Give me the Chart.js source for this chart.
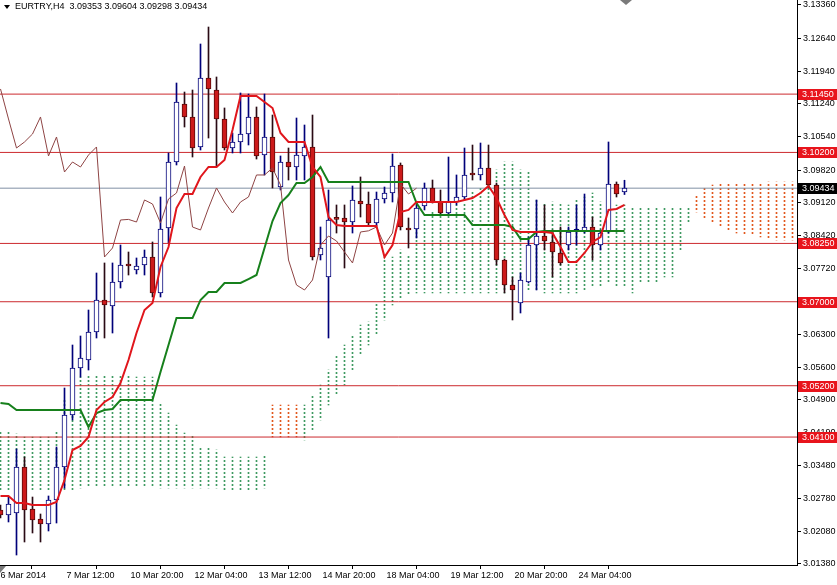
<!DOCTYPE html>
<html>
<head>
<meta charset="utf-8">
<style>
  html, body { margin: 0; padding: 0; background: #fff; }
  canvas { display: block; }
</style>
<script src="https://cdn.jsdelivr.net/npm/chart.js@4.4.1/dist/chart.umd.min.js"></script>
</head>
<body>
<canvas id="chart" width="837" height="585"></canvas>
<script>
// EURTRY H4, one entry per bar (bar 0 = leftmost visible candle)
const symbolTitle = 'EURTRY,H4  3.09353 3.09604 3.09298 3.09434';

const openP = [3.02537, 3.02430, 3.02473, 3.03459, 3.02558, 3.02344, 3.02237, 3.02751, 3.03459, 3.04573,
  3.05580, 3.05752, 3.06352, 3.07037, 3.06909, 3.07423, 3.07788, 3.07680, 3.07788, 3.07959,
  3.07188, 3.08581, 3.09995, 3.11238, 3.10960, 3.10317, 3.11795, 3.11538, 3.10917, 3.10295,
  3.10424, 3.10595, 3.10960, 3.10145, 3.10531, 3.09459, 3.09995, 3.09888, 3.10124, 3.10317,
  3.08002, 3.07530, 3.08780, 3.08795, 3.08709, 3.09159, 3.09095, 3.08688, 3.09202, 3.09331,
  3.09931, 3.08581, 3.08559, 3.09052, 3.09438, 3.09138, 3.08902, 3.09138, 3.09245, 3.09760,
  3.09717, 3.09867, 3.09502, 3.07895, 3.07359, 3.06973, 3.07423, 3.08216, 3.08409, 3.08281,
  3.08045, 3.08216, 3.08510, 3.08516, 3.08602, 3.08216, 3.08495, 3.09524, 3.09353];
const highP = [3.02644, 3.02815, 3.03844, 3.03673, 3.02815, 3.02451, 3.02837, 3.03887, 3.05151, 3.06073,
  3.06266, 3.06823, 3.07616, 3.07831, 3.07831, 3.08216, 3.08066, 3.07938, 3.08109, 3.08281,
  3.09245, 3.10188, 3.11688, 3.11495, 3.11538, 3.12524, 3.12888, 3.11817, 3.11153, 3.10617,
  3.11474, 3.11452, 3.11174, 3.11452, 3.11002, 3.10124, 3.10295, 3.10938, 3.10788, 3.11002,
  3.08602, 3.09395, 3.09074, 3.09074, 3.09481, 3.09674, 3.09352, 3.09352, 3.09459, 3.10167,
  3.09974, 3.08795, 3.09116, 3.09545, 3.09609, 3.09395, 3.10102, 3.09717, 3.10295, 3.10359,
  3.10402, 3.10359, 3.09545, 3.07916, 3.07530, 3.07616, 3.08388, 3.09181, 3.09074, 3.08538,
  3.08602, 3.08602, 3.09074, 3.09309, 3.08816, 3.08538, 3.10424, 3.09567, 3.09604];
const lowP = [3.02365, 3.02280, 3.01572, 3.01851, 3.02044, 3.01851, 3.02087, 3.02258, 3.03008, 3.04466,
  3.05387, 3.05537, 3.06223, 3.06223, 3.06330, 3.07295, 3.07573, 3.07595, 3.07573, 3.07102,
  3.07102, 3.08259, 3.09931, 3.10745, 3.10102, 3.10252, 3.10509, 3.09888, 3.10252, 3.10188,
  3.10188, 3.10360, 3.10059, 3.09717, 3.09438, 3.09395, 3.09609, 3.09609, 3.09609, 3.07895,
  3.07895, 3.06223, 3.08473, 3.07723, 3.08473, 3.08816, 3.08623, 3.08623, 3.09116, 3.09138,
  3.08538, 3.08152, 3.08366, 3.08967, 3.09116, 3.08859, 3.08859, 3.09074, 3.09181, 3.09609,
  3.09609, 3.09438, 3.07788, 3.07188, 3.06609, 3.06759, 3.07402, 3.07252, 3.08109, 3.07530,
  3.07788, 3.08109, 3.08216, 3.08473, 3.07895, 3.08109, 3.08473, 3.09245, 3.09298];
const closeP = [3.02430, 3.02665, 3.03459, 3.02537, 3.02323, 3.02237, 3.02751, 3.03459, 3.04573, 3.05580,
  3.05795, 3.06352, 3.07037, 3.06930, 3.07423, 3.07788, 3.07766, 3.07766, 3.07959, 3.07188,
  3.08559, 3.09995, 3.11281, 3.10960, 3.10295, 3.11795, 3.11560, 3.10917, 3.10295, 3.10424,
  3.10595, 3.10960, 3.10124, 3.10531, 3.09781, 3.09995, 3.09888, 3.10145, 3.10317, 3.07959,
  3.08152, 3.08752, 3.08765, 3.08709, 3.09181, 3.09095, 3.08688, 3.09202, 3.09331, 3.09909,
  3.08602, 3.08538, 3.09009, 3.09438, 3.09138, 3.08902, 3.09138, 3.09245, 3.09717, 3.09717,
  3.09867, 3.09502, 3.07895, 3.07359, 3.07252, 3.07466, 3.08216, 3.08409, 3.08302, 3.08066,
  3.07831, 3.08495, 3.08520, 3.08602, 3.08216, 3.08473, 3.09524, 3.09309, 3.09434];

// Ichimoku lines
const tenkan = [3.02837, 3.02837, 3.02687, 3.02687, 3.02644, 3.02644, 3.02644, 3.02708, 3.03180, 3.03823,
  3.03909, 3.04102, 3.04680, 3.04852, 3.04959, 3.05259, 3.05752, 3.06330, 3.06823, 3.06973,
  3.07745, 3.08173, 3.09009, 3.09309, 3.09309, 3.09674, 3.09888, 3.09888, 3.10038, 3.10681,
  3.11410, 3.11410, 3.11410, 3.11281, 3.11152, 3.10617, 3.10424, 3.10424, 3.10424, 3.09888,
  3.09674, 3.08816, 3.08645, 3.08623, 3.08623, 3.08623, 3.08623, 3.08623, 3.07959, 3.08216,
  3.08924, 3.08967, 3.09138, 3.09138, 3.09138, 3.09138, 3.09138, 3.09138, 3.09181, 3.09224,
  3.09331, 3.09481, 3.09224, 3.08859, 3.08538, 3.08495, 3.08495, 3.08495, 3.08495, 3.08473,
  3.08173, 3.07852, 3.07852, 3.08045, 3.08281, 3.08388, 3.08967, 3.08988, 3.09074];
const kijun = [3.04830, 3.04808, 3.04680, 3.04680, 3.04680, 3.04680, 3.04680, 3.04680, 3.04680, 3.04680,
  3.04680, 3.04316, 3.04616, 3.04680, 3.04702, 3.04894, 3.04894, 3.04894, 3.04894, 3.04894,
  3.05494, 3.06073, 3.06651, 3.06651, 3.06651, 3.07037, 3.07209, 3.07209, 3.07402, 3.07402,
  3.07402, 3.07487, 3.07573, 3.08152, 3.08731, 3.09116, 3.09288, 3.09545, 3.09545, 3.09674,
  3.09888, 3.09567, 3.09567, 3.09567, 3.09567, 3.09567, 3.09567, 3.09567, 3.09567, 3.09567,
  3.09567, 3.09567, 3.09116, 3.08859, 3.08859, 3.08859, 3.08859, 3.08859, 3.08859, 3.08645,
  3.08645, 3.08645, 3.08645, 3.08645, 3.08602, 3.08345, 3.08345, 3.08495, 3.08516, 3.08516,
  3.08516, 3.08516, 3.08516, 3.08516, 3.08516, 3.08516, 3.08516, 3.08516, 3.08516];
const chikouShift = 26;

// Kumo, bars 0..99 (runs past the last candle)
const spanA = [3.04208, 3.04208, 3.04166, 3.04101, 3.04101, 3.04101, 3.04101, 3.04208, 3.04894, 3.05216,
  3.05387, 3.05430, 3.05430, 3.05430, 3.05430, 3.05409, 3.05409, 3.05387, 3.05387, 3.05387,
  3.04830, 3.04616, 3.04358, 3.04187, 3.04144, 3.03887, 3.03866, 3.03823, 3.03673, 3.03673,
  3.03673, 3.03673, 3.03673, 3.03694, 3.04101, 3.04101, 3.04101, 3.04101, 3.04787, 3.05001,
  3.05216, 3.05537, 3.05858, 3.06073, 3.06287, 3.06501, 3.06566, 3.06973, 3.07959, 3.07959,
  3.08109, 3.08002, 3.08752, 3.08752, 3.08923, 3.09031, 3.09031, 3.09074, 3.09116, 3.09352,
  3.09459, 3.09609, 3.09824, 3.09995, 3.09995, 3.09824, 3.09781, 3.09181, 3.09116, 3.09138,
  3.09116, 3.09074, 3.09181, 3.09245, 3.09331, 3.09138, 3.09074, 3.09074, 3.09074, 3.09009,
  3.09009, 3.09009, 3.09009, 3.09031, 3.09031, 3.09009, 3.09009, 3.08923, 3.08795, 3.08709,
  3.08623, 3.08538, 3.08473, 3.08430, 3.08430, 3.08388, 3.08366, 3.08323, 3.08323, 3.08323];
const spanB = [3.02965, 3.02965, 3.02965, 3.02965, 3.02965, 3.02965, 3.02965, 3.02965, 3.02965, 3.02965,
  3.03008, 3.03030, 3.03030, 3.03030, 3.03030, 3.03030, 3.03030, 3.03030, 3.03030, 3.03030,
  3.03008, 3.03008, 3.03008, 3.03008, 3.03008, 3.03008, 3.03008, 3.03008, 3.02965, 3.02965,
  3.02965, 3.02965, 3.02965, 3.03008, 3.04787, 3.04787, 3.04787, 3.04787, 3.04037, 3.04251,
  3.04466, 3.04787, 3.05001, 3.05216, 3.05537, 3.05858, 3.06073, 3.06287, 3.06609, 3.06930,
  3.07080, 3.07145, 3.07188, 3.07188, 3.07188, 3.07188, 3.07188, 3.07188, 3.07188, 3.07188,
  3.07188, 3.07188, 3.07188, 3.07188, 3.07252, 3.07402, 3.07252, 3.07252, 3.07188, 3.07188,
  3.07188, 3.07188, 3.07188, 3.07252, 3.07316, 3.07316, 3.07402, 3.07316, 3.07316, 3.07188,
  3.07402, 3.07402, 3.07402, 3.07530, 3.07530, 3.08109, 3.08709, 3.09288, 3.09438, 3.09502,
  3.09545, 3.09545, 3.09545, 3.09545, 3.09545, 3.09545, 3.09566, 3.09566, 3.09566, 3.09566];

// horizontal levels and last price
const levels = [3.11450, 3.10200, 3.08250, 3.07000, 3.05200, 3.04100];
const lastPrice = 3.09434;

// axes
const priceTicks = [3.13360, 3.12640, 3.11940, 3.11240, 3.10540, 3.09820, 3.09120, 3.08420, 3.07720,
  3.07000, 3.06300, 3.05600, 3.04900, 3.04190, 3.03480, 3.02780, 3.02080, 3.01380];
const timeTickBars = [-0.25, 8, 16, 24, 32, 40, 48, 56, 64, 72];
const timeLabels = ['6 Mar 2014', '7 Mar 12:00', '10 Mar 20:00', '12 Mar 04:00', '13 Mar 12:00',
  '14 Mar 20:00', '18 Mar 04:00', '19 Mar 12:00', '20 Mar 20:00', '24 Mar 04:00'];

const X_MIN = -0.0625, X_MAX = 99.5625;
const Y_MIN = 3.01358, Y_MAX = 3.13467;

const FONT = '"Liberation Sans", Arial, sans-serif';
Chart.defaults.font.family = FONT;
Chart.defaults.font.size = 9;
Chart.defaults.color = '#000';

function dotPattern(color) {
  const c = document.createElement('canvas');
  c.width = 1; c.height = 4;
  const g = c.getContext('2d');
  g.fillStyle = color;
  g.fillRect(0, 0, 1, 2);
  return g.createPattern(c, 'repeat');
}

const idx = closeP.map((_, i) => i);
const isUp = i => closeP[i] >= openP[i];

const kumoUp = [], kumoDown = [];
spanA.forEach((a, i) => {
  const b = spanB[i];
  const pt = { x: i, y: [Math.min(a, b), Math.max(a, b)] };
  if (a >= b) kumoUp.push(pt); else kumoDown.push(pt);
});

const chikou = closeP.slice(chikouShift).map((v, j) => ({ x: j, y: v }));

const flatLine = (v, color, order) => ({
  type: 'line', data: [{ x: X_MIN, y: v }, { x: X_MAX, y: v }],
  borderColor: color, borderWidth: 1, pointRadius: 0, order: order
});

const datasets = [
  { type: 'bar', data: kumoUp, backgroundColor: dotPattern('#3f9a62'), barThickness: 1, grouped: false, order: 100 },
  { type: 'bar', data: kumoDown, backgroundColor: dotPattern('#e2581e'), barThickness: 1, grouped: false, order: 100 },
  ...levels.map(v => flatLine(v, '#cc2a2e', 90)),
  flatLine(lastPrice, '#8090a4', 85),
  { type: 'bar', data: idx.map(i => ({ x: i, y: [lowP[i], highP[i]] })),
    backgroundColor: idx.map(i => isUp(i) ? '#00007a' : '#2a0a14'),
    barThickness: 1, grouped: false, order: 60 },
  { type: 'bar', data: idx.map(i => ({ x: i, y: [openP[i], closeP[i]] })),
    backgroundColor: idx.map(i => isUp(i) ? '#ffffff' : '#cc1a1a'),
    borderColor: idx.map(i => isUp(i) ? '#00007a' : '#5a0a0a'),
    borderWidth: 1, borderSkipped: false, minBarLength: 2,
    barThickness: 5, grouped: false, order: 50 },
  { type: 'line', data: chikou, borderColor: '#8e4444', borderWidth: 1, pointRadius: 0, order: 40 },
  { type: 'line', data: idx.map(i => ({ x: i, y: kijun[i] })), borderColor: '#17801c', borderWidth: 2, pointRadius: 0, order: 30 },
  { type: 'line', data: idx.map(i => ({ x: i, y: tenkan[i] })), borderColor: '#e0161c', borderWidth: 2, pointRadius: 0, order: 20 }
];

const decor = {
  id: 'decor',
  afterDraw(chart) {
    const ctx = chart.ctx;
    const ys = chart.scales.y;
    ctx.save();
    ctx.font = '9px ' + FONT;
    ctx.textBaseline = 'middle';
    ctx.textAlign = 'left';
    // price labels on the axis
    const tag = (v, bg) => {
      const y = Math.round(ys.getPixelForValue(v));
      ctx.fillStyle = bg;
      ctx.fillRect(798, y - 5, 39, 11);
      ctx.fillStyle = '#fff';
      ctx.fillText(v.toFixed(5), 802, y + 0.5);
    };
    levels.forEach(v => tag(v, '#e8141c'));
    tag(lastPrice, '#000');
    // title
    ctx.fillStyle = '#000';
    ctx.beginPath();
    ctx.moveTo(4, 5); ctx.lineTo(10, 5); ctx.lineTo(7, 9); ctx.closePath(); ctx.fill();
    ctx.fillText(symbolTitle, 15, 7);
    // shift marker and scroll marker
    ctx.fillStyle = '#7a7a7a';
    ctx.beginPath();
    ctx.moveTo(620, 0); ctx.lineTo(632, 0); ctx.lineTo(626, 5); ctx.closePath(); ctx.fill();
    ctx.beginPath();
    ctx.moveTo(0, 566); ctx.lineTo(6, 566); ctx.lineTo(0, 573); ctx.closePath(); ctx.fill();
    ctx.restore();
  }
};

new Chart(document.getElementById('chart'), {
  type: 'bar',
  data: { datasets: datasets },
  options: {
    responsive: false,
    animation: false,
    events: [],
    layout: { padding: 0 },
    plugins: { legend: { display: false }, tooltip: { enabled: false } },
    scales: {
      x: {
        type: 'linear', min: X_MIN, max: X_MAX, offset: false, position: 'bottom',
        grid: { display: true, drawOnChartArea: false, tickLength: 4, color: '#000' },
        border: { display: true, color: '#000' },
        ticks: {
          autoSkip: false, maxRotation: 0, minRotation: 0, align: 'start', labelOffset: 2, padding: 1,
          callback: (v, i) => timeLabels[i]
        },
        afterBuildTicks: s => { s.ticks = timeTickBars.map(v => ({ value: v })); },
        afterFit: s => { s.height = 20; s.paddingLeft = 0; s.paddingRight = 0; }
      },
      y: {
        type: 'linear', position: 'right', min: Y_MIN, max: Y_MAX,
        grid: { display: true, drawOnChartArea: false, tickLength: 4, color: '#000' },
        border: { display: true, color: '#000' },
        ticks: { autoSkip: false, padding: 2, callback: v => v.toFixed(5) },
        afterBuildTicks: s => { s.ticks = priceTicks.map(v => ({ value: v })); },
        afterFit: s => { s.width = 40; s.paddingTop = 0; s.paddingBottom = 0; }
      }
    }
  },
  plugins: [decor]
});
</script>
</body>
</html>
